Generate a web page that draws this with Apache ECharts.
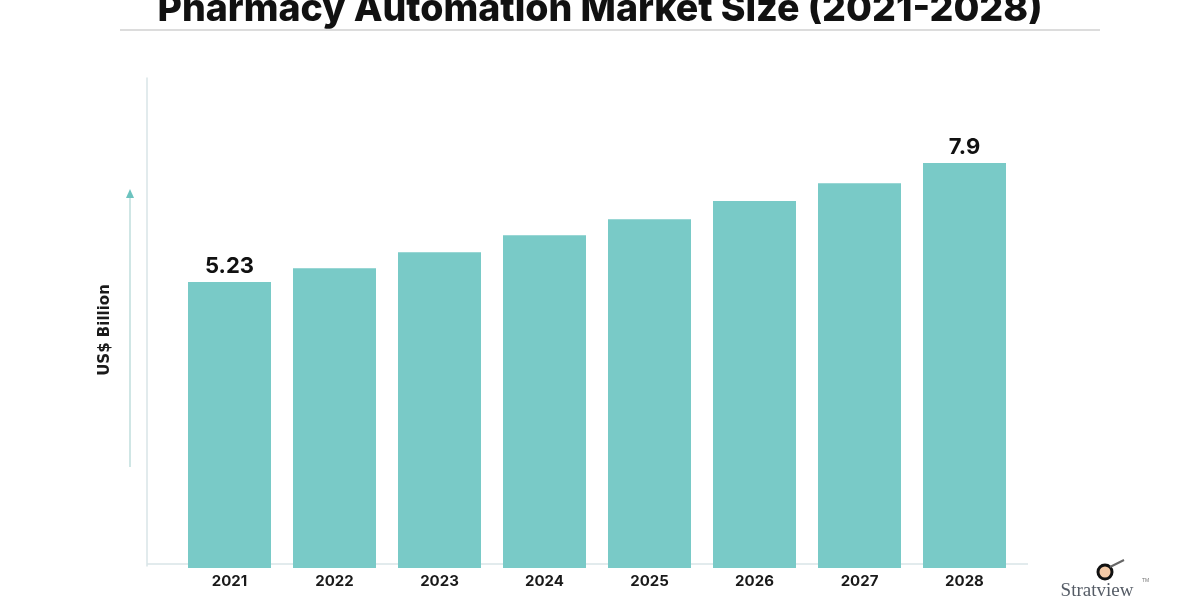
<!DOCTYPE html>
<html>
<head>
<meta charset="utf-8">
<script src="https://cdn.jsdelivr.net/npm/echarts@6/dist/echarts.min.js"></script>
<style>html,body{margin:0;padding:0;background:#fff}#c{width:1200px;height:600px}</style>
</head>
<body>
<div id="c"></div>
<script>
var titleText = 'Pharmacy Automation Market Size (2021-2028)';
var years = ['2021','2022','2023','2024','2025','2026','2027','2028'];
var marketSize = [5.23, 5.54, 5.90, 6.28, 6.64, 7.05, 7.45, 7.9];
var labelledIdx = [0, 7];
var yName = 'US$ Billion';

var Y_MIN = -1.14, Y_MAX = 9.81;
var chart = echarts.init(document.getElementById('c'), null, {renderer: 'canvas'});
var font = 'Inter, "Open Sans", sans-serif';

chart.setOption({
  animation: false,
  backgroundColor: '#ffffff',
  grid: {left: 177, right: 183, top: 78, bottom: 34},
  xAxis: {
    type: 'category',
    data: years,
    axisLine: {show: false},
    axisTick: {show: false},
    axisLabel: {color: '#1a1a1a', fontSize: 15, fontWeight: 700, fontFamily: font, margin: 8}
  },
  yAxis: {
    type: 'value',
    min: Y_MIN,
    max: Y_MAX,
    offset: 30,
    splitLine: {show: false},
    axisLabel: {show: false},
    axisTick: {show: false},
    axisLine: {show: true, lineStyle: {color: '#d9e5e7', width: 1.5}}
  },
  series: [{
    type: 'custom',
    data: marketSize.map(function (v, i) { return [i, v]; }),
    encode: {x: 0, y: 1},
    renderItem: function (params, api) {
      var idx = api.value(0), val = api.value(1);
      var top = api.coord([idx, val]);
      var bottom = api.coord([idx, Y_MIN]);
      var w = 83;
      var children = [{
        type: 'rect',
        shape: {x: top[0] - w / 2, y: top[1], width: w, height: bottom[1] - top[1] + 2},
        style: {fill: '#79cac7'}
      }];
      if (labelledIdx.indexOf(params.dataIndex) >= 0) {
        children.push({
          type: 'text',
          style: {x: top[0], y: top[1] - 5, text: String(marketSize[params.dataIndex]),
            textAlign: 'center', textVerticalAlign: 'bottom',
            fill: '#111', font: '700 22px ' + font}
        });
      }
      return {type: 'group', children: children};
    }
  }],
  graphic: [
    {type: 'text', style: {x: 600, y: 10, text: titleText, textAlign: 'center', textVerticalAlign: 'middle',
      fill: '#111', font: '800 37.5px ' + font}},
    {type: 'line', shape: {x1: 120, y1: 30, x2: 1100, y2: 30}, style: {stroke: '#dcdcdc', lineWidth: 2}},
    {type: 'line', shape: {x1: 147, y1: 564, x2: 1028, y2: 564}, style: {stroke: '#d9e5e7', lineWidth: 1.5}, z: -1},
    {type: 'line', shape: {x1: 130, y1: 467, x2: 130, y2: 196}, style: {stroke: '#cfe6e5', lineWidth: 2}},
    {type: 'polygon', shape: {points: [[126, 198], [134, 198], [130, 189]]}, style: {fill: '#6cc3bf'}},
    {type: 'text', x: 105, y: 330, rotation: Math.PI / 2,
      style: {x: 0, y: 0, text: yName, textAlign: 'center', textVerticalAlign: 'middle',
        fill: '#1a1a1a', font: '700 15px "DejaVu Sans", sans-serif'}},
    {type: 'circle', shape: {cx: 1105, cy: 572, r: 7}, style: {fill: '#f3c9a6', stroke: '#111', lineWidth: 3}},
    {type: 'line', shape: {x1: 1110, y1: 567, x2: 1124, y2: 560}, style: {stroke: '#666', lineWidth: 2}},
    {type: 'text', style: {x: 1097, y: 591, text: 'Stratview', textAlign: 'center', textVerticalAlign: 'middle',
      fill: '#555c66', font: '19px "Liberation Serif", serif'}},
    {type: 'text', style: {x: 1142, y: 581, text: 'TM', textAlign: 'left', textVerticalAlign: 'middle',
      fill: '#777', font: '5px sans-serif'}}
  ]
});
</script>
</body>
</html>
